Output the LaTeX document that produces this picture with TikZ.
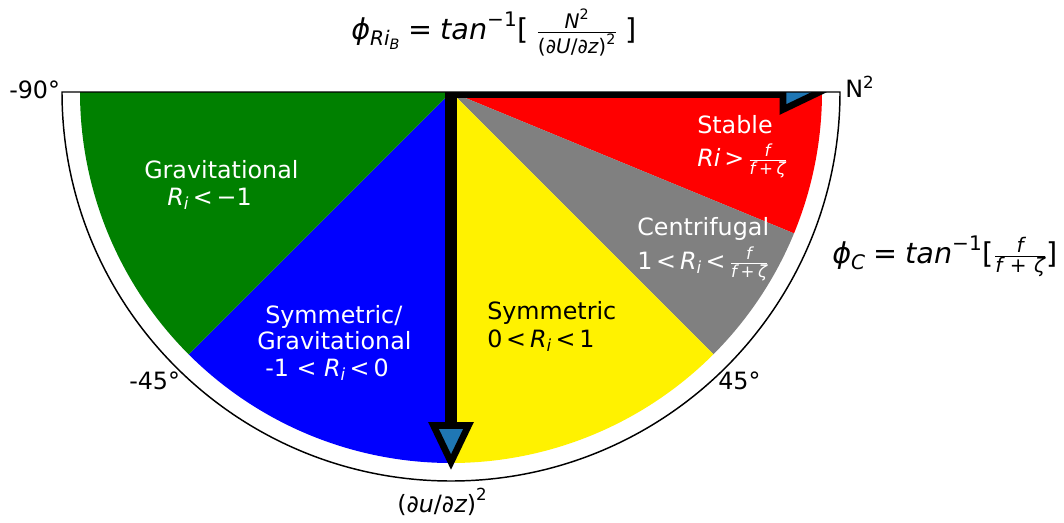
\documentclass[tikz,border=0pt]{standalone}
\usepackage{amsmath}
\usepackage{fontspec}
\setmainfont{DejaVu Sans}
\definecolor{mplblue}{RGB}{31,119,180}
\definecolor{mplgreen}{RGB}{0,128,0}
\definecolor{mplgray}{RGB}{128,128,128}
\newcommand\mi[1]{\text{\itshape #1}}
\newcommand\mr[1]{\text{\upshape #1}}
\newcommand\fzeta[1][7]{\frac{\mi{f}}{\mi{f}\mkern#1mu\mr{+}\mkern#1mu\mi{ζ}}}
\newcommand\srel[1]{\mkern3mu\mr{#1}\mkern3mu}
\begin{document}
\begin{tikzpicture}[x=0.75pt,y=-0.75pt,
  lbl/.style={anchor=base west, inner sep=0pt, font=\fontsize{17.85pt}{21pt}\selectfont},
  wlbl/.style={lbl, text=white},
  biglbl/.style={lbl, font=\fontsize{21.5pt}{25pt}\selectfont},
  stem/.style={line width=9, line cap=butt},
  head/.style={fill=mplblue, draw=black, line width=5, line join=miter},
  frame/.style={draw=black, line width=1.1}]
\useasboundingbox (0,0) rectangle (1064,522);
\coordinate (c) at (451,92);
% white background half disc
\fill[white] (c) ++(0:389) arc[start angle=0,end angle=180,radius=389] -- cycle;
% sectors
\fill[red] (c) -- ++(0:371) arc[start angle=0,end angle=22.4,radius=371] -- cycle;
\fill[mplgray] (c) -- ++(22.4:371) arc[start angle=22.4,end angle=45,radius=371] -- cycle;
\fill[yellow] (c) -- ++(45:371) arc[start angle=45,end angle=90,radius=371] -- cycle;
\fill[blue] (c) -- ++(90:371) arc[start angle=90,end angle=135,radius=371] -- cycle;
\fill[mplgreen] (c) -- ++(135:371) arc[start angle=135,end angle=180,radius=371] -- cycle;
% arrows, clipped to the half disc
\begin{scope}
\clip (c) ++(0:389) arc[start angle=0,end angle=180,radius=389] -- cycle;
\coordinate (vbase) at (451,425.5);
\coordinate (vtip) at (451,462);
\coordinate (hbase) at (783,92);
\coordinate (htip) at (819.5,92);
\draw[stem] (c) -- (vbase);
\path[head] (vbase) ++(-17.5,0) -- ++(35,0) -- (vtip) -- cycle;
\draw[stem] (c) -- (hbase);
\path[head] (hbase) ++(0,-17.5) -- ++(0,35) -- (htip) -- cycle;
\end{scope}
% frame outline
\path[frame] (c) ++(0:389) arc[start angle=0,end angle=180,radius=389] -- cycle;
% labels
\node[biglbl] (title) at (351,39) {$\mi{ϕ}_{\mi{Ri}_{\mi{B}}} \mathrel{\mr{=}} \mi{tan}^{\mr{−1}}\mr{[}\;\frac{\mi{N}^{\mr{2}}}{\mr{(}\mi{∂U}\mr{/}\mi{∂z}\mr{)}^{\mr{2}}}\;\mr{]}$};
\node[lbl] (n2) at (845,97) {N$^{\mr{2}}$};
\node[biglbl] (phic) at (832,263) {$\mi{ϕ}_{\mi{C}} \mathrel{\mr{=}} \mi{tan}^{\mr{−1}}\mr{[}\fzeta\mr{]}$};
\node[lbl] (dudz) at (397,512) {$\mr{(}\mi{∂u}\mr{/}\mi{∂z}\mr{)}^{\mr{2}}$};
\node[lbl] (m90) at (9,98) {-90°};
\node[lbl] (m45) at (129,389) {-45°};
\node[lbl] (p45) at (718,389) {45°};
\node[wlbl] (stable) at (697,133) {Stable};
\node[wlbl] (stablec) at (697,166) {$\mi{Ri}\srel{>}\fzeta[4]$};
\node[wlbl] (centr) at (637,235) {Centrifugal};
\node[wlbl] (centrc) at (637,269) {$\mr{1}\srel{<}\mi{R}_{\mi{i}}\srel{<}\fzeta[4]$};
\node[wlbl] (grav) at (144,178) {Gravitational};
\node[wlbl] (gravc) at (167,205) {$\mi{R}_{\mi{i}}\srel{<}\mr{−1}$};
\node[wlbl] (sg1) at (265,323) {Symmetric/};
\node[wlbl] (sg2) at (257,349) {Gravitational};
\node[wlbl] (sg3) at (265,376) {-1 < $\mi{R}_{\mi{i}}\srel{<}\mr{0}$};
\node[lbl] (sym) at (487,319) {Symmetric};
\node[lbl] (symc) at (487,347) {$\mr{0}\srel{<}\mi{R}_{\mi{i}}\srel{<}\mr{1}$};
\end{tikzpicture}
\end{document}
